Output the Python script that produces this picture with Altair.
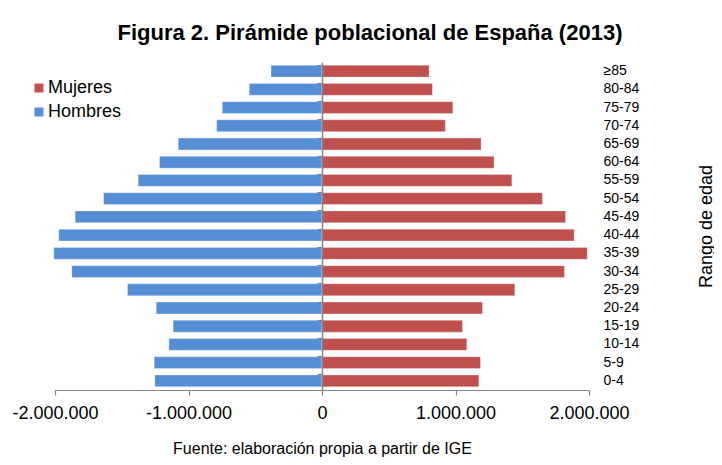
import altair as alt
import pandas as pd

categories = ["≥85", "80-84", "75-79", "70-74", "65-69", "60-64", "55-59", "50-54",
              "45-49", "40-44", "35-39", "30-34", "25-29", "20-24", "15-19", "10-14",
              "5-9", "0-4"]
hombres = [382000, 545000, 747000, 789000, 1077000, 1217000, 1377000, 1636000,
           1849000, 1972000, 2009000, 1874000, 1457000, 1242000, 1115000, 1147000,
           1257000, 1252000]
mujeres = [802000, 827000, 980000, 924000, 1192000, 1289000, 1422000, 1651000,
           1824000, 1889000, 1987000, 1816000, 1444000, 1202000, 1052000, 1085000,
           1187000, 1175000]
series = ["Mujeres", "Hombres"]
x_ticks = [-2000000, -1000000, 0, 1000000, 2000000]

rows = []
for c, h, m in zip(categories, hombres, mujeres):
    rows.append({"edad": c, "sexo": "Hombres", "valor": -h})
    rows.append({"edad": c, "sexo": "Mujeres", "valor": m})
df = pd.DataFrame(rows)

FONT = "Liberation Sans"
GRAY = "#868686"

label_expr = "(datum.value < 0 ? '-' : '') + replace(format(abs(datum.value), ','), regexp(',', 'g'), '.')"

xscale = alt.Scale(domain=[-2000000, 2000000], nice=False)
yscale = alt.Scale(domain=categories, paddingInner=0.35, paddingOuter=0.175)

bars = alt.Chart(df).mark_bar(stroke="white", strokeWidth=0.6, strokeOpacity=0.5).encode(
    x=alt.X("valor:Q", scale=xscale,
            axis=alt.Axis(values=x_ticks, labelExpr=label_expr, grid=False,
                          domainColor=GRAY, domainWidth=1.2, tickColor=GRAY, tickSize=5,
                          tickWidth=1.2, labelFontSize=18, labelColor="black",
                          labelPadding=9, labelFlush=False,
                          title="Fuente: elaboración propia a partir de IGE",
                          titleFontSize=16, titleFontWeight="normal", titleColor="black",
                          titleY=58, titleBaseline="middle")),
    y=alt.Y("edad:N", scale=yscale, sort=categories,
            axis=alt.Axis(orient="right", domain=False, ticks=False, labelAlign="left",
                          labelPadding=14, labelFontSize=14, labelColor="black",
                          title="Rango de edad", titleFontSize=18, titleFontWeight="normal",
                          titleColor="black", titleAngle=270, titleX=117, titleY=164,
                          titleBaseline="middle", titleAlign="center")),
    color=alt.Color("sexo:N", scale=alt.Scale(domain=series, range=["#C0504D", "#558ED5"]),
                    legend=alt.Legend(orient="none", legendX=-25, legendY=17, title=None,
                                      symbolType="square", symbolSize=81,
                                      symbolStrokeWidth=0, labelFontSize=18,
                                      labelColor="black", rowPadding=6, labelOffset=0)),
)

zero_axis = alt.Chart(df).mark_bar(opacity=0).encode(
    x=alt.X("valor:Q", scale=xscale, axis=None),
    y=alt.Y("edad:N", scale=yscale, sort=categories,
            axis=alt.Axis(orient="left", offset=-267, labels=False, title=None,
                          domainColor=GRAY, domainWidth=1.5, tickColor=GRAY, tickSize=5,
                          tickWidth=1.2, bandPosition=0, zindex=1)),
)

chart = alt.layer(bars, zero_axis).resolve_axis(x="independent", y="independent").resolve_scale(
    x="shared", y="shared").properties(
    width=534, height=328,
    autosize=alt.AutoSizeParams(type="none"),
    padding={"left": 47, "top": 54, "right": 125, "bottom": 67},
    title=alt.TitleParams("Figura 2. Pirámide poblacional de España (2013)", fontSize=22,
                          fontWeight="bold", color="black", anchor="middle", dx=48, offset=17),
).configure(font=FONT).configure_view(stroke=None)

chart.save("out.html", embed_options={"renderer": "svg", "actions": False})
